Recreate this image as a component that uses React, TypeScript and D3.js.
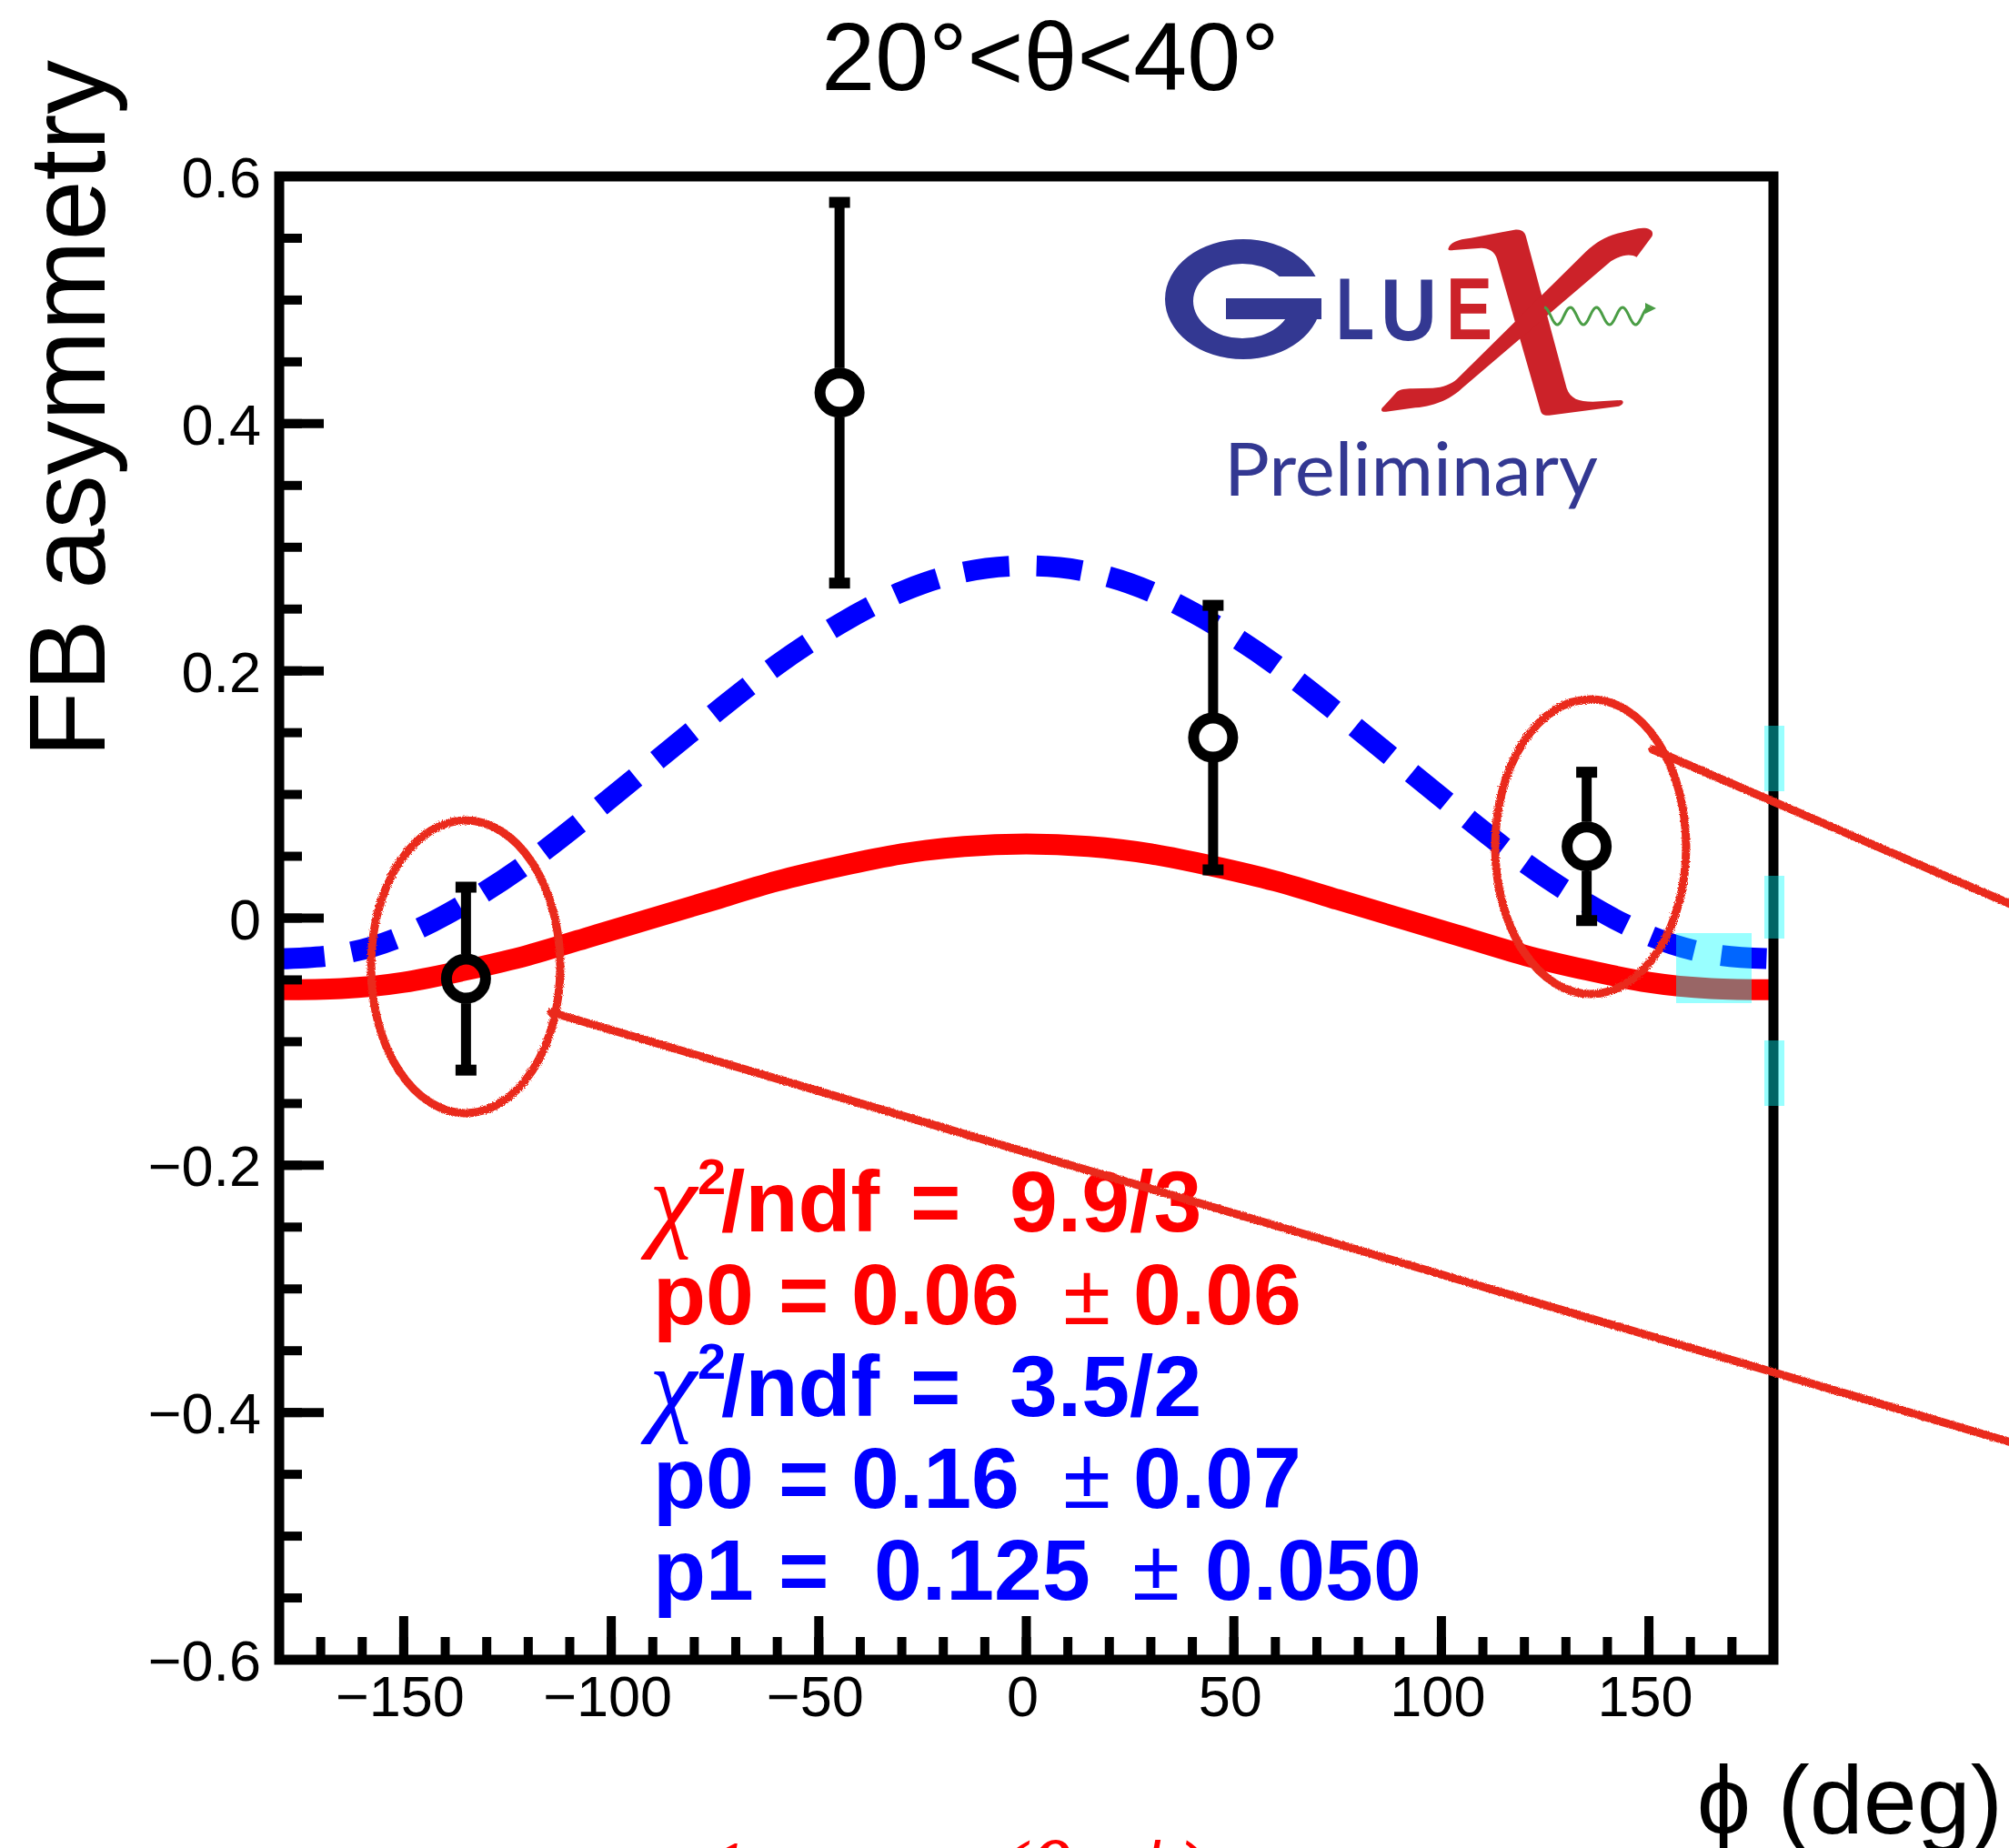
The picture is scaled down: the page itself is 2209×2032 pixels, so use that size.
import React from "react"
import * as d3 from "d3"

// measured points (phi in deg, FB asymmetry, symmetric error)
const PHI_DATA = [-135, -45, 45, 135]
const ASYM_DATA = [-0.049, 0.425, 0.146, 0.058]
const ASYM_ERR = [0.074, 0.154, 0.107, 0.06]

// fit curves every 15 deg
const CURVE_PHI = [
    -180, -165, -150, -135, -120, -105, -90, -75, -60, -45, -30, -15, 0, 15, 30,
    45, 60, 75, 90, 105, 120, 135, 150, 165, 180,
]
const RED_FIT = [
    -0.058, -0.057, -0.052, -0.042, -0.03, -0.015, 0.0, 0.015, 0.03, 0.042,
    0.052, 0.058, 0.06, 0.058, 0.052, 0.042, 0.03, 0.015, 0.0, -0.015, -0.03,
    -0.042, -0.052, -0.057, -0.058,
]
const BLUE_FIT = [
    -0.033, -0.029, -0.014, 0.012, 0.045, 0.084, 0.125, 0.166, 0.205, 0.238,
    0.264, 0.28, 0.285, 0.28, 0.264, 0.238, 0.205, 0.166, 0.125, 0.084, 0.045,
    0.012, -0.014, -0.029, -0.033,
]

const X_TICKS = [-150, -100, -50, 0, 50, 100, 150]
const X_TICK_LABELS = ["\u2212150", "\u2212100", "\u221250", "0", "50", "100", "150"]
const Y_TICKS = [0.6, 0.4, 0.2, 0, -0.2, -0.4, -0.6]
const Y_TICK_LABELS = ["0.6", "0.4", "0.2", "0", "\u22120.2", "\u22120.4", "\u22120.6"]

// fit results box
const CHI2_NDF = ["9.9/3", "3.5/2"]
const P0_VALUE = ["0.06", "0.16"]
const P0_ERROR = ["0.06", "0.07"]
const P1_VALUE = "0.125"
const P1_ERROR = "0.050"

const W = 2209
const H = 2032
const RED = "#ff0000"
const BLUE = "#0000ff"
const PENCIL = "#ea2a1c"
const LOGO_BLUE = "#333892"
const LOGO_RED = "#cc2229"
const SANS = "'Liberation Sans', Arial, Helvetica, sans-serif"

const x = d3.scaleLinear().domain([-180, 180]).range([307, 1950])
const y = d3.scaleLinear().domain([-0.6, 0.6]).range([1825, 194])

function Chi2Row({ base, color, value }) {
    return (
        <g fill={color}>
            <text x={714} y={base + 6} fontFamily="'Liberation Serif', serif" fontStyle="italic" fontSize={118}>
                χ
            </text>
            <g fontFamily={SANS} fontWeight="bold">
                <text x={767} y={base - 41} fontSize={56}>2</text>
                <text x={793} y={base} fontSize={95}>/ndf</text>
                <text x={1001} y={base} fontSize={95}>=</text>
                <text x={1110} y={base} fontSize={95}>{value}</text>
            </g>
        </g>
    )
}

function ParRow({ base, color, name, value, err, xv, xpm, xe }) {
    return (
        <g fill={color} fontFamily={SANS} fontSize={95}>
            <text x={718} y={base} fontWeight="bold">{name}</text>
            <text x={856} y={base} fontWeight="bold">=</text>
            <text x={xv} y={base} fontWeight="bold">{value}</text>
            <text x={xpm} y={base}>±</text>
            <text x={xe} y={base} fontWeight="bold">{err}</text>
        </g>
    )
}

function Logo() {
    const ell = (cx, cy, rx, ry) =>
        `M${cx - rx},${cy} a${rx},${ry} 0 1,0 ${2 * rx},0 a${rx},${ry} 0 1,0 ${-2 * rx},0 Z`
    const wave = d3
        .range(0, 115, 1)
        .map((d) => [1698 + d, 347.5 - 9.5 * Math.cos((2 * Math.PI * d) / 28.7)])
    return (
        <g>
            <defs>
                <clipPath id="gclip">
                    <path d="M1270,250 H1470 V304 H1396 V328 H1470 V410 H1270 Z" />
                </clipPath>
            </defs>
            {/* G */}
            <path
                d={ell(1367, 329, 86, 66) + ell(1366, 331, 54, 41)}
                fillRule="evenodd"
                fill={LOGO_BLUE}
                clipPath="url(#gclip)"
            />
            <rect x={1348} y={328} width={105} height={23} fill={LOGO_BLUE} />
            <g fontFamily={SANS} fontWeight="bold" fontSize={97}>
                <text x={1469} y={373} textLength={42} lengthAdjust="spacingAndGlyphs" fill={LOGO_BLUE}>L</text>
                <text x={1518} y={374} textLength={62} lengthAdjust="spacingAndGlyphs" fill={LOGO_BLUE}>U</text>
                <text x={1590} y={373} textLength={51} lengthAdjust="spacingAndGlyphs" fill={LOGO_RED}>E</text>
            </g>
            {/* X, drawn in the crop frame of the logo */}
            <g transform="translate(1250,230) scale(0.3827,0.3333)" fill={LOGO_RED}>
                <path d="M895,130 C900,110 920,100 960,95 L1085,68 C1105,65 1115,75 1118,90 L1160,270 L1235,590 C1245,625 1270,635 1310,635 L1390,630 C1402,632 1398,646 1385,650 L1185,680 C1170,682 1162,675 1160,665 L1035,165 C1030,140 1010,128 990,128 L910,135 C898,137 893,134 895,130 Z" />
                <path d="M920,560 L1290,140 C1320,108 1345,92 1380,80 L1440,64 C1470,58 1488,70 1480,90 L1436,158 C1420,148 1395,148 1362,172 L935,590 C905,622 865,648 800,655 L716,668 C700,670 700,660 708,652 L745,605 C756,594 772,592 792,592 L850,590 C880,588 905,576 920,560 Z" />
            </g>
            <path d={d3.line()(wave)} fill="none" stroke="#4a9d45" strokeWidth={3} />
            <path d="M1809,333 L1821,339 L1809,345 Z" fill="#4a9d45" />
            <text
                x={1346}
                y={545}
                fontFamily="Lato, 'Open Sans', sans-serif"
                fontSize={82}
                textLength={411}
                lengthAdjust="spacingAndGlyphs"
                fill={LOGO_BLUE}
            >
                Preliminary
            </text>
        </g>
    )
}

export default function App() {
    const fitLine = d3
        .line<number>()
        .x((_, i) => x(CURVE_PHI[i]))
        .y((d) => y(d))
        .curve(d3.curveNatural)

    const xMinor = d3.range(-170, 180, 10)
    const yMinor = d3.range(-11, 12).map((k) => k * 0.05)
    const [x0, x1] = x.range()
    const [y0, y1] = y.range()

    return (
        <svg
            width={W}
            height={H}
            viewBox={`0 0 ${W} ${H}`}
            style={{ position: "absolute", left: 0, top: 0, background: "#fff" }}
        >
            <defs>
                <clipPath id="plotclip">
                    <rect x={x0} y={y1} width={x1 - x0} height={y0 - y1} />
                </clipPath>
                {/* rough pencil look for the hand drawn marks */}
                <filter id="pencil" x="-5%" y="-5%" width="110%" height="110%">
                    <feTurbulence type="fractalNoise" baseFrequency="0.9" numOctaves={2} seed={3} result="n" />
                    <feDisplacementMap in="SourceGraphic" in2="n" scale={4} />
                </filter>
            </defs>

            {/* title */}
            <text x={1155} y={99} textAnchor="middle" fontFamily={SANS} fontSize={106}>
                20°&lt;θ&lt;40°
            </text>

            {/* fit curves */}
            <g clipPath="url(#plotclip)" fill="none">
                <path d={fitLine(RED_FIT)} stroke={RED} strokeWidth={23} />
                <path d={fitLine(BLUE_FIT)} stroke={BLUE} strokeWidth={23} strokeDasharray="50 30" />
            </g>

            {/* frame and ticks */}
            <rect x={x0} y={y1} width={x1 - x0} height={y0 - y1} fill="none" stroke="#000" strokeWidth={11} />
            <g stroke="#000" strokeWidth={10}>
                {yMinor.map((v) => (
                    <line key={"ym" + v} x1={x0} x2={x0 + 25} y1={y(v)} y2={y(v)} />
                ))}
                {Y_TICKS.map((v) => (
                    <line key={"yM" + v} x1={x0} x2={x0 + 49} y1={y(v)} y2={y(v)} />
                ))}
                {xMinor.map((v) => (
                    <line key={"xm" + v} x1={x(v)} x2={x(v)} y1={y0} y2={y0 - 25} />
                ))}
                {X_TICKS.map((v) => (
                    <line key={"xM" + v} x1={x(v)} x2={x(v)} y1={y0} y2={y0 - 48} />
                ))}
            </g>
            <g fontFamily={SANS} fontSize={63}>
                {Y_TICKS.map((v, i) => (
                    <text key={"yl" + v} x={287} y={y(v) + 23} textAnchor="end">
                        {Y_TICK_LABELS[i]}
                    </text>
                ))}
                {X_TICKS.map((v, i) => (
                    <text key={"xl" + v} x={x(v) - 4} y={1887} textAnchor="middle">
                        {X_TICK_LABELS[i]}
                    </text>
                ))}
            </g>

            {/* axis titles */}
            <text
                transform="translate(115,66) rotate(-90)"
                textAnchor="end"
                fontFamily={SANS}
                fontSize={119}
            >
                FB asymmetry
            </text>
            <text x={2202} y={2016} textAnchor="end" fontFamily={SANS} fontSize={106}>
                ϕ (deg)
            </text>

            {/* data points */}
            {PHI_DATA.map((p, i) => {
                const cx = x(p)
                const cy = y(ASYM_DATA[i])
                const top = y(ASYM_DATA[i] + ASYM_ERR[i])
                const bot = y(ASYM_DATA[i] - ASYM_ERR[i])
                return (
                    <g key={"pt" + p}>
                        <line x1={cx} x2={cx} y1={top} y2={cy - 27} stroke="#000" strokeWidth={11} />
                        <line x1={cx} x2={cx} y1={cy + 27} y2={bot} stroke="#000" strokeWidth={11} />
                        <rect x={cx - 11.5} y={top - 6} width={23} height={12} fill="#000" />
                        <rect x={cx - 11.5} y={bot - 6} width={23} height={12} fill="#000" />
                        <circle cx={cx} cy={cy} r={21.5} fill="none" stroke="#000" strokeWidth={12} />
                    </g>
                )
            })}

            <Logo />

            {/* fit results */}
            <Chi2Row base={1354} color={RED} value={CHI2_NDF[0]} />
            <ParRow base={1456} color={RED} name="p0" value={P0_VALUE[0]} err={P0_ERROR[0]} xv={936} xpm={1169} xe={1246} />
            <Chi2Row base={1557} color={BLUE} value={CHI2_NDF[1]} />
            <ParRow base={1658} color={BLUE} name="p0" value={P0_VALUE[1]} err={P0_ERROR[1]} xv={936} xpm={1169} xe={1246} />
            <ParRow base={1759} color={BLUE} name="p1" value={P1_VALUE} err={P1_ERROR} xv={961} xpm={1245} xe={1325} />

            {/* hand drawn call-outs */}
            <g fill="none" stroke={PENCIL} strokeWidth={9} strokeLinecap="round" filter="url(#pencil)">
                <ellipse cx={512} cy={1063} rx={104} ry={161} />
                <line x1={606} y1={1113} x2={2215} y2={1587} />
                <ellipse cx={1749} cy={931} rx={105} ry={162} />
                <line x1={1817} y1={824} x2={2215} y2={996} />
            </g>

            {/* cyan highlight boxes */}
            <g fill="#00ffff" fillOpacity={0.4}>
                <rect x={1940} y={798} width={22} height={72} />
                <rect x={1940} y={963} width={22} height={69} />
                <rect x={1940} y={1144} width={22} height={72} />
                <rect x={1843} y={1026} width={83} height={77} />
            </g>

            {/* formula cut at the page bottom */}
            <g fill={RED} fontFamily="'Liberation Serif', serif" fontStyle="italic" fontSize={110}>
                <text x={770} y={2100}>1</text>
                <text x={1090} y={2100}>(θ, ϕ)</text>
            </g>
        </svg>
    )
}
